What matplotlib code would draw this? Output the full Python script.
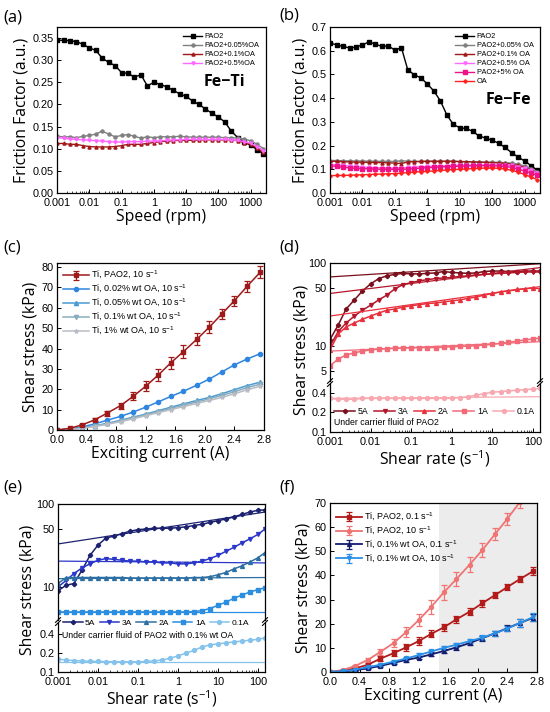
import matplotlib
matplotlib.use("Agg")
import matplotlib.pyplot as plt
import numpy as np

plt.rcParams['font.family'] = ['Liberation Sans', 'DejaVu Sans']
plt.rcParams['mathtext.fontset'] = 'custom'
plt.rcParams['mathtext.rm'] = 'Liberation Sans'
plt.rcParams['axes.linewidth'] = 0.9
plt.rcParams['xtick.direction'] = 'in'
plt.rcParams['ytick.direction'] = 'in'

# ---------------- data ----------------
speed = [0.001, 0.0016, 0.0025, 0.004, 0.0063, 0.01, 0.016, 0.025, 0.04, 0.063, 0.1, 0.16, 0.25,
         0.4, 0.63, 1, 1.6, 2.5, 4, 6.3, 10, 16, 25, 40, 63, 100, 160, 250, 400, 630, 1000, 1600, 2500]

a_labels = ['PAO2', 'PAO2+0.05%OA', 'PAO2+0.1%OA', 'PAO2+0.5%OA']
a_pao2 = [0.345, 0.345, 0.344, 0.342, 0.336, 0.328, 0.322, 0.305, 0.295, 0.288, 0.272, 0.270, 0.262,
          0.267, 0.242, 0.250, 0.245, 0.240, 0.232, 0.224, 0.218, 0.208, 0.200, 0.190, 0.180, 0.172,
          0.160, 0.140, 0.125, 0.115, 0.108, 0.098, 0.088]
a_005 = [0.128, 0.127, 0.127, 0.125, 0.128, 0.130, 0.133, 0.140, 0.133, 0.127, 0.130, 0.132, 0.128,
         0.124, 0.127, 0.125, 0.127, 0.127, 0.127, 0.128, 0.127, 0.126, 0.126, 0.126, 0.126, 0.126,
         0.125, 0.125, 0.124, 0.122, 0.118, 0.110, 0.100]
a_01 = [0.112, 0.112, 0.110, 0.110, 0.107, 0.105, 0.104, 0.104, 0.104, 0.105, 0.107, 0.110, 0.110,
        0.110, 0.112, 0.114, 0.116, 0.117, 0.118, 0.119, 0.119, 0.119, 0.120, 0.120, 0.120, 0.120,
        0.120, 0.120, 0.118, 0.114, 0.110, 0.102, 0.092]
a_05 = [0.125, 0.124, 0.122, 0.121, 0.120, 0.119, 0.118, 0.117, 0.116, 0.115, 0.115, 0.116, 0.116,
        0.116, 0.117, 0.117, 0.118, 0.119, 0.120, 0.120, 0.121, 0.121, 0.121, 0.121, 0.121, 0.121,
        0.121, 0.120, 0.119, 0.116, 0.112, 0.105, 0.095]

b_labels = ['PAO2', 'PAO2+0.05% OA', 'PAO2+0.1% OA', 'PAO2+0.5% OA', 'PAO2+5% OA', 'OA']
b_pao2 = [0.632, 0.625, 0.618, 0.612, 0.615, 0.625, 0.637, 0.628, 0.618, 0.620, 0.603, 0.612, 0.520,
          0.498, 0.486, 0.460, 0.430, 0.390, 0.330, 0.290, 0.275, 0.272, 0.260, 0.240, 0.232, 0.222,
          0.210, 0.192, 0.170, 0.152, 0.135, 0.115, 0.095]
b_005 = [0.137, 0.137, 0.136, 0.135, 0.135, 0.135, 0.134, 0.134, 0.133, 0.133, 0.133, 0.136, 0.134,
         0.133, 0.133, 0.133, 0.133, 0.133, 0.133, 0.133, 0.132, 0.132, 0.131, 0.131, 0.130, 0.130,
         0.129, 0.128, 0.126, 0.122, 0.114, 0.103, 0.090]
b_01 = [0.133, 0.134, 0.132, 0.131, 0.130, 0.130, 0.129, 0.129, 0.128, 0.127, 0.126, 0.124, 0.131,
        0.132, 0.133, 0.134, 0.134, 0.134, 0.134, 0.134, 0.133, 0.132, 0.131, 0.130, 0.129, 0.128,
        0.127, 0.125, 0.122, 0.116, 0.108, 0.097, 0.085]
b_05 = [0.120, 0.118, 0.116, 0.114, 0.112, 0.110, 0.108, 0.107, 0.106, 0.105, 0.105, 0.106, 0.108,
        0.110, 0.111, 0.112, 0.113, 0.114, 0.115, 0.116, 0.117, 0.118, 0.118, 0.119, 0.119, 0.119,
        0.119, 0.118, 0.116, 0.111, 0.104, 0.095, 0.085]
b_5 = [0.115, 0.112, 0.109, 0.106, 0.104, 0.103, 0.102, 0.101, 0.100, 0.100, 0.100, 0.100, 0.101,
       0.103, 0.105, 0.107, 0.108, 0.110, 0.111, 0.112, 0.113, 0.114, 0.115, 0.115, 0.115, 0.115,
       0.114, 0.112, 0.108, 0.101, 0.093, 0.084, 0.075]
b_oa = [0.073, 0.074, 0.074, 0.075, 0.076, 0.077, 0.078, 0.079, 0.080, 0.081, 0.082, 0.084, 0.086,
        0.088, 0.090, 0.091, 0.093, 0.095, 0.097, 0.099, 0.100, 0.101, 0.103, 0.104, 0.105, 0.105,
        0.104, 0.101, 0.096, 0.088, 0.078, 0.067, 0.056]

current = [0.0, 0.17, 0.34, 0.51, 0.68, 0.86, 1.03, 1.2, 1.37, 1.54, 1.71, 1.89, 2.06, 2.23, 2.4, 2.57, 2.75]
c_labels = ['Ti, PAO2, 10 s$^{\\mathregular{-1}}$', 'Ti, 0.02% wt OA, 10 s$^{\\mathregular{-1}}$',
            'Ti, 0.05% wt OA, 10 s$^{\\mathregular{-1}}$', 'Ti, 0.1% wt OA, 10 s$^{\\mathregular{-1}}$',
            'Ti, 1% wt OA, 10 s$^{\\mathregular{-1}}$']
c_pao2 = [0, 0.8, 2.5, 5, 8.3, 12, 16.5, 21.5, 27, 33, 38.5, 44.5, 50.5, 57, 63.5, 70.5, 77.5]
c_pao2_err = [0, 0.3, 0.5, 0.8, 1.2, 1.5, 2.0, 2.5, 3.0, 3.0, 3.0, 3.0, 3.0, 2.5, 2.5, 2.5, 3.0]
c_002 = [0, 0.5, 1.5, 3, 4.8, 6.7, 8.8, 11.2, 13.8, 16.5, 19, 22, 25, 28.5, 32, 34.8, 37.5]
c_005 = [0, 0.3, 1, 2, 3.3, 4.8, 6.3, 7.8, 9.5, 11.2, 12.8, 14.5, 16, 17.8, 19.8, 21.8, 23.5]
c_01 = [0, 0.3, 1, 1.9, 3.1, 4.5, 6, 7.5, 9, 10.6, 12.2, 13.8, 15.3, 17, 18.8, 20.8, 22.5]
c_1 = [0, 0.2, 0.8, 1.7, 2.8, 4.1, 5.5, 7, 8.5, 10, 11.5, 13, 14.5, 16, 17.8, 19.7, 21.5]

rate = [0.001, 0.0016, 0.0025, 0.004, 0.0063, 0.01, 0.016, 0.025, 0.04, 0.063, 0.1, 0.16, 0.25, 0.4,
        0.63, 1, 1.6, 2.5, 4, 6.3, 10, 16, 25, 40, 63, 100, 150]
fit_x = [0.001, 150]
de_labels = ['5A', '3A', '2A', '1A', '0.1A']

d_5 = [12, 18, 28, 36, 46, 56, 65, 70, 73, 75, 74, 74, 75, 76, 79, 77, 76, 75, 76, 79, 80, 80, 79, 79, 80, 80, 80]
d_3 = [10, 15, 19, 23, 27, 31, 36, 41, 49, 55, 58, 61, 63, 65, 66, 67, 69, 70, 72, 73, 74, 75, 76, 77, 78, 78, 78]
d_2 = [9, 14, 17, 19, 21, 23, 25, 27, 28, 29.5, 30.5, 31.5, 32.5, 33, 34, 35, 36, 37.5, 39, 41, 43, 45, 46.5, 48, 49, 50, 49]
d_1 = [5.8, 7, 7.8, 8.3, 8.7, 9, 9.2, 9.3, 9.4, 9.5, 9.5, 9.6, 9.6, 9.6, 9.7, 9.8, 9.9, 10, 10.1, 10.3, 10.5, 10.8, 11.1, 11.5, 11.8, 12.2, 12.5]
d_01 = [0.33, 0.32, 0.32, 0.32, 0.33, 0.33, 0.33, 0.33, 0.33, 0.33, 0.33, 0.33, 0.33, 0.33, 0.33, 0.33,
        0.34, 0.35, 0.37, 0.39, 0.41, 0.42, 0.43, 0.44, 0.45, 0.46, 0.47]
d_fit5 = [68, 98]
d_fit3 = [43, 88]
d_fit2 = [23, 52]
d_fit1 = [8.7, 11.3]
d_fit01 = [0.33, 0.35]

e_5 = [9, 10.5, 11, 16, 24, 32, 39, 41, 44, 47, 49, 50, 51, 51, 51, 52, 53, 55, 57, 60, 63, 66, 70, 75, 80, 84, 85]
e_3 = [10, 12, 14.5, 17, 19, 21, 22, 21.5, 21, 20.5, 20.5, 20, 20, 19.5, 19.5, 19, 19, 19.5, 20.5, 22, 24, 27, 30, 34, 38, 43, 50]
e_2 = [11, 13, 13, 13, 13, 13, 13, 13, 13, 12.8, 12.8, 12.8, 12.8, 12.8, 12.8, 12.8, 12.8, 13, 13, 13.3, 14, 15, 16.5, 18, 20, 22.5, 26]
e_1 = [5.0, 5.0, 5.0, 5.0, 5.0, 5.0, 5.0, 5.0, 5.0, 5.0, 5.0, 5.0, 5.0, 5.0, 5.0, 5.0, 5.0, 5.05, 5.2,
       5.5, 6.0, 6.6, 7.3, 8.0, 8.7, 9.3, 9.8]
e_01 = [0.16, 0.155, 0.152, 0.15, 0.148, 0.147, 0.146, 0.146, 0.145, 0.145, 0.145, 0.147, 0.15, 0.155,
        0.165, 0.18, 0.2, 0.22, 0.25, 0.27, 0.28, 0.29, 0.3, 0.31, 0.32, 0.33, 0.35]
e_fit5 = [33, 80]
e_fit3 = [20.5, 19.5]
e_fit2 = [12.6, 13.0]
e_fit1 = [5.0, 5.0]
e_fit01 = [0.145, 0.145]

f_labels = ['Ti, PAO2, 0.1 s$^{\\mathregular{-1}}$', 'Ti, PAO2, 10 s$^{\\mathregular{-1}}$',
            'Ti, 0.1% wt OA, 0.1 s$^{\\mathregular{-1}}$', 'Ti, 0.1% wt OA, 10 s$^{\\mathregular{-1}}$']
f_pao2_01 = [0, 0.5, 1.5, 3, 5.5, 7.8, 10.2, 12.8, 15.8, 18.5, 21.8, 25, 28.5, 31.8, 35.2, 38.5, 41.8]
f_pao2_01_err = [0, 0.3, 0.5, 0.8, 1.0, 1.2, 1.5, 1.5, 1.5, 1.5, 1.5, 1.5, 1.5, 1.2, 1.2, 1.2, 1.5]
f_pao2_10 = c_pao2
f_pao2_10_err = c_pao2_err
f_oa_01 = [0, 0.2, 0.7, 1.5, 2.5, 3.8, 5, 6, 7.3, 8.7, 10.2, 12, 14, 16, 18.2, 20.3, 22.5]
f_oa_10 = [0, 0.3, 1, 2, 3, 4.3, 5.6, 7, 8.5, 10, 11.3, 12.8, 14.2, 16, 18, 20.3, 22.8]
f_oa_err = [0, 0.2, 0.3, 0.4, 0.5, 0.6, 0.7, 0.7, 0.8, 0.8, 0.9, 0.9, 1.0, 1.0, 1.2, 1.5, 1.5]
shade_range = [1.48, 2.8]

# ---------------- figure ----------------
W, H = 550, 712
fig = plt.figure(figsize=(5.5, 7.12), dpi=100)

def ax_px(l, t, r, b):
    return fig.add_axes([l / W, 1 - b / H, (r - l) / W, (b - t) / H])

LABFONT = dict(family=['Open Sans', 'DejaVu Sans'], fontsize=11.3)
TICKSIZE = 7.8

def style(ax):
    ax.tick_params(labelsize=TICKSIZE, length=3, width=0.7)
    ax.tick_params(axis='x', pad=3.5)
    ax.tick_params(axis='y', pad=2.5)
    ax.tick_params(which='minor', length=1.6, width=0.5)

def panel_label(x, y, s):
    fig.text(x / W, 1 - y / H, s, family=['Open Sans', 'DejaVu Sans'], fontsize=12, va='center', ha='left')

logticks = [0.001, 0.01, 0.1, 1, 10, 100, 1000]
logtick_labels = ['0.001', '0.01', '0.1', '1', '10', '100', '1000']

ms_small = 2.2

# (a)
ax = ax_px(57, 27, 266, 193)
cols_a = ['#000000', '#808080', '#a01818', '#ff66ff']
mk_a = ['s', 'o', '^', 'v']
for ys, c, m, lab in zip([a_pao2, a_005, a_01, a_05], cols_a, mk_a, a_labels):
    ax.plot(speed, ys, color=c, marker=m, ms=ms_small, lw=1.0, label=lab)
ax.set_xscale('log')
ax.set_xlim(0.001, 3000)
ax.set_ylim(0, 0.375)
ax.set_xticks(logticks, logtick_labels)
ax.set_yticks(np.arange(0, 0.36, 0.05), ['%.2f' % v for v in np.arange(0, 0.36, 0.05)])
style(ax)
ax.set_xlabel('Speed (rpm)', **LABFONT, labelpad=1)
ax.set_ylabel('Friction Factor (a.u.)', **LABFONT, labelpad=2)
ax.legend(loc='upper right', bbox_to_anchor=(0.99, 0.99), frameon=False, fontsize=5.3,
          handlelength=2.6, handletextpad=0.3, labelspacing=0.25, borderaxespad=0.2)
ax.text(0.80, 0.67, 'Fe−Ti', transform=ax.transAxes, ha='center', va='center',
        family=['Open Sans', 'DejaVu Sans'], fontweight='bold', fontsize=11.5)
panel_label(3, 17, '(a)')

# (b)
ax = ax_px(330, 27, 540, 193)
cols_b = ['#000000', '#808080', '#a01818', '#ff66ff', '#ee1188', '#ff2020']
mk_b = ['s', 'o', '^', 'v', 's', 'P']
for ys, c, m, lab in zip([b_pao2, b_005, b_01, b_05, b_5, b_oa], cols_b, mk_b, b_labels):
    ax.plot(speed, ys, color=c, marker=m, ms=ms_small, lw=1.0, label=lab)
ax.set_xscale('log')
ax.set_xlim(0.001, 3000)
ax.set_ylim(0, 0.7)
ax.set_xticks(logticks, logtick_labels)
ax.set_yticks(np.arange(0, 0.71, 0.1), ['%.1f' % v for v in np.arange(0, 0.71, 0.1)])
style(ax)
ax.set_xlabel('Speed (rpm)', **LABFONT, labelpad=1)
ax.set_ylabel('Friction Factor (a.u.)', **LABFONT, labelpad=2)
ax.legend(loc='upper right', bbox_to_anchor=(0.99, 0.99), frameon=False, fontsize=5.3,
          handlelength=2.6, handletextpad=0.3, labelspacing=0.25, borderaxespad=0.2)
ax.text(0.85, 0.56, 'Fe−Fe', transform=ax.transAxes, ha='center', va='center',
        family=['Open Sans', 'DejaVu Sans'], fontweight='bold', fontsize=11.5)
panel_label(279, 15, '(b)')

# (c)
ax = ax_px(57, 263, 264, 430)
cols_c = ['#9e1a1a', '#2f86e0', '#4a9ad6', '#86aebe', '#b9bcc4']
mk_c = ['s', 'o', '^', 'v', '*']
hc = [ax.errorbar(current, c_pao2, yerr=c_pao2_err, color=cols_c[0], marker='s', ms=ms_small + 0.3, lw=1.1,
                  capsize=2, elinewidth=0.9, capthick=0.9)]
for ys, c, m in zip([c_002, c_005, c_01, c_1], cols_c[1:], mk_c[1:]):
    hc.append(ax.plot(current, ys, color=c, marker=m, ms=ms_small + 0.8, lw=1.1)[0])
ax.set_xlim(0, 2.8)
ax.set_ylim(0, 82)
ax.set_xticks(np.arange(0, 2.81, 0.4), ['%.1f' % v for v in np.arange(0, 2.81, 0.4)])
ax.set_yticks(range(0, 81, 10))
style(ax)
ax.set_xlabel('Exciting current (A)', **LABFONT, labelpad=1)
ax.set_ylabel('Shear stress (kPa)', **LABFONT, labelpad=2)
ax.legend(hc, c_labels, loc='upper left', bbox_to_anchor=(0.0, 1.0), frameon=False, fontsize=6.5,
          handlelength=2.8, handletextpad=0.3, labelspacing=0.2, borderaxespad=0.3)
panel_label(3, 247, '(c)')

# broken log-axis helper
def broken(l, r, top_t, top_b, bot_t, bot_b, up_lim, low_lim, up_ticks, low_ticks):
    a1 = ax_px(l, top_t, r, top_b)
    a2 = ax_px(l, bot_t, r, bot_b)
    for a in (a1, a2):
        a.set_xscale('log')
        a.set_yscale('log')
        a.set_xlim(0.001, 150)
        style(a)
    a1.set_ylim(*up_lim)
    a2.set_ylim(*low_lim)
    a1.spines['bottom'].set_visible(False)
    a2.spines['top'].set_visible(False)
    a1.tick_params(axis='x', which='both', bottom=False, labelbottom=False)
    a1.set_yticks(up_ticks, [str(v) for v in up_ticks])
    a1.set_yticks([], minor=True)
    a2.set_yticks(low_ticks, [str(v) for v in low_ticks])
    a2.set_yticks([], minor=True)
    a2.set_xticks([0.001, 0.01, 0.1, 1, 10, 100], ['0.001', '0.01', '0.1', '1', '10', '100'])
    kw = dict(color='k', lw=0.8, clip_on=False)
    d = 0.012
    for xx in (0, 1):
        a1.plot([xx - d, xx + d], [-0.02, 0.02], transform=a1.transAxes, **kw)
        a2.plot([xx - d, xx + d], [0.95, 1.05], transform=a2.transAxes, **kw)
    return a1, a2

mk_de = ['P', 'v', '^', 's', 'o']

def draw_rheo(a1, a2, series, fits, cols):
    hs = []
    for ys, fy, c, m in zip(series[:4], fits[:4], cols[:4], mk_de[:4]):
        hs.append(a1.plot(rate, ys, color=c, marker=m, ms=ms_small + 0.6, lw=1.1)[0])
        a1.plot(fit_x, fy, color=c, lw=0.9)
    hs.append(a2.plot(rate, series[4], color=cols[4], marker='o', ms=ms_small + 0.6, lw=1.1)[0])
    a2.plot(fit_x, fits[4], color=cols[4], lw=0.9)
    return hs

# (d)
a1, a2 = broken(330, 540, 263, 381, 384, 432, (3.8, 100), (0.1, 0.55), [5, 10, 50, 100], [0.1, 0.2, 0.4])
cols_d = ['#7a0f1c', '#b3162a', '#e8303c', '#f06a78', '#f7a8b0']
hs = draw_rheo(a1, a2, [d_5, d_3, d_2, d_1, d_01], [d_fit5, d_fit3, d_fit2, d_fit1, d_fit01], cols_d)
a2.legend(hs, de_labels, loc='center left', bbox_to_anchor=(0.0, 0.42), ncol=5, frameon=False, fontsize=6.3,
          handlelength=2.4, handletextpad=0.3, columnspacing=0.6, borderaxespad=0.1)
a2.text(0.02, 0.2, 'Under carrier fluid of PAO2', transform=a2.transAxes, fontsize=6.3, va='center')
a2.set_xlabel('Shear rate (s$^{\\mathregular{-1}}$)', **LABFONT, labelpad=1)
fig.text(301 / W, 1 - 350 / H, 'Shear stress (kPa)', rotation=90, ha='center', va='center', **LABFONT)
panel_label(279, 247, '(d)')

# (e)
a1, a2 = broken(58, 265, 504, 620, 623, 672, (4.0, 100), (0.1, 0.6), [10, 50, 100], [0.1, 0.2, 0.4])
cols_e = ['#1c2270', '#2a37c8', '#2d6fa3', '#2b8ee0', '#86c3ec']
hs = draw_rheo(a1, a2, [e_5, e_3, e_2, e_1, e_01], [e_fit5, e_fit3, e_fit2, e_fit1, e_fit01], cols_e)
a2.legend(hs, de_labels, loc='center left', bbox_to_anchor=(0.0, 1.0), ncol=5, frameon=False, fontsize=6.1,
          handlelength=2.3, handletextpad=0.3, columnspacing=0.5, borderaxespad=0.2)
a2.text(0.02, 0.74, 'Under carrier fluid of PAO2 with 0.1% wt OA', transform=a2.transAxes, fontsize=6.3, va='center')
a2.set_xlabel('Shear rate (s$^{\\mathregular{-1}}$)', **LABFONT, labelpad=1)
fig.text(27 / W, 1 - 590 / H, 'Shear stress (kPa)', rotation=90, ha='center', va='center', **LABFONT)
panel_label(3, 488, '(e)')

# (f)
ax = ax_px(330, 503, 537, 672)
ax.axvspan(shade_range[0], shade_range[1], color='#ececec', lw=0, zorder=0)
cols_f = ['#b31b1b', '#f07474', '#141c6e', '#2a8fe6']
hf = []
for ys, err, c, m in zip([f_pao2_01, f_pao2_10, f_oa_01, f_oa_10],
                         [f_pao2_01_err, f_pao2_10_err, f_oa_err, f_oa_err], cols_f, ['s', 'o', '^', 'v']):
    hf.append(ax.errorbar(current, ys, yerr=err, color=c, marker=m, ms=ms_small + 0.6, lw=1.3,
                          capsize=2, elinewidth=0.9, capthick=0.9))
ax.set_xlim(0, 2.8)
ax.set_ylim(0, 70)
ax.set_xticks(np.arange(0, 2.81, 0.4), ['%.1f' % v for v in np.arange(0, 2.81, 0.4)])
ax.set_yticks(range(0, 71, 10))
style(ax)
ax.set_xlabel('Exciting current (A)', **LABFONT, labelpad=1)
ax.set_ylabel('Shear stress (kPa)', **LABFONT, labelpad=2)
ax.legend(hf, f_labels, loc='upper left', bbox_to_anchor=(0.0, 0.99), frameon=False, fontsize=6.5,
          handlelength=2.8, handletextpad=0.3, labelspacing=0.2, borderaxespad=0.3)
panel_label(279, 488, '(f)')

fig.savefig('out.png', dpi=100)
